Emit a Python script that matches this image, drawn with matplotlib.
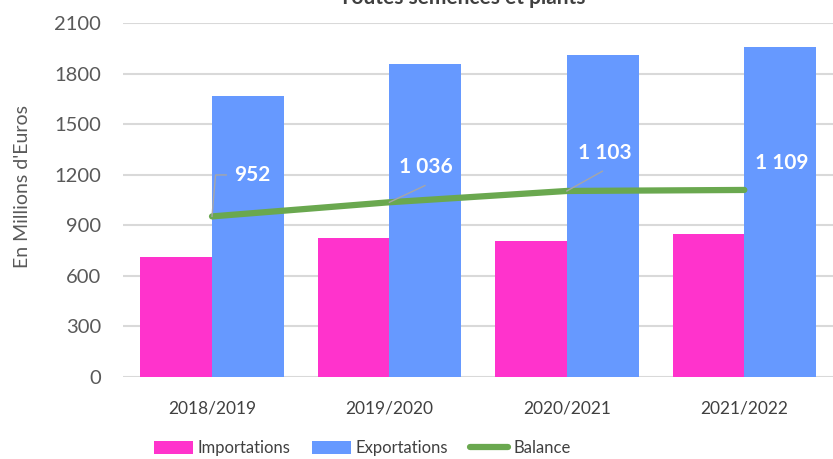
import matplotlib
matplotlib.use("Agg")
import matplotlib.pyplot as plt
import numpy as np
from matplotlib.patches import Patch
from matplotlib.lines import Line2D

categories = ["2018/2019", "2019/2020", "2020/2021", "2021/2022"]
importations = [712, 822, 808, 850]
exportations = [1664, 1858, 1911, 1959]
balance = [952, 1036, 1103, 1109]
balance_labels = ["952", "1 036", "1 103", "1 109"]
yticks = [0, 300, 600, 900, 1200, 1500, 1800, 2100]

plt.rcParams['font.family'] = ['Lato', 'DejaVu Sans']

fig = plt.figure(figsize=(8.33, 4.59), dpi=100)
ax = fig.add_axes([0.148, 0.179, 0.852, 0.771])

pink = "#ff33cc"
blue = "#6699ff"
green = "#6aa84f"

x = np.arange(len(categories))
w = 0.404
ax.bar(x - w / 2, importations, width=w, color=pink, zorder=2)
ax.bar(x + w / 2, exportations, width=w, color=blue, zorder=2)
ax.plot(x, balance, color=green, lw=4.5, solid_capstyle='round', zorder=3)

# data labels with leader lines
label_pos = [(0.225, 1198), (1.208, 1245), (2.213, 1329), (3.213, 1269)]
for i, (lx, ly) in enumerate(label_pos):
    ax.text(lx, ly, balance_labels[i], color="white", fontsize=15, fontweight='bold',
            ha='center', va='center', zorder=5)
ax.plot([0, 0.02, 0.08], [balance[0], 1198, 1198], color="#a6a6a6", lw=1, zorder=4)
ax.plot([1, 1.2], [balance[1], 1135], color="#a6a6a6", lw=1, zorder=4)
ax.plot([2, 2.2], [balance[2], 1220], color="#a6a6a6", lw=1, zorder=4)

ax.set_xlim(-0.5, 3.5)
ax.set_ylim(0, 2100)
ax.set_yticks(yticks)
ax.set_xticks(x)
ax.set_xticklabels(categories, fontsize=12.5, color="#404040")
ax.tick_params(axis='y', labelsize=14.5, labelcolor="#595959", length=0, pad=16)
ax.tick_params(axis='x', length=0, pad=17)
ax.grid(axis='y', color="#d9d9d9", lw=1.5, zorder=0)
for s in ax.spines.values():
    s.set_visible(False)
ax.set_ylabel("En Millions d'Euros", fontsize=14, color="#595959")
ax.yaxis.set_label_coords(-0.13, 0.537)

fig.text(0.555, 1.005, "Toutes semences et plants", ha='center', va='center',
         fontsize=15, fontweight='bold', color="#404040")

handles = [Patch(facecolor=pink), Patch(facecolor=blue),
           Line2D([0], [0], color=green, lw=4.5, solid_capstyle='round')]
fig.legend(handles, ["Importations", "Exportations", "Balance"], loc='center',
           bbox_to_anchor=(0.435, 0.024), ncol=3, frameon=False, fontsize=12,
           handlelength=2.3, handleheight=0.8, handletextpad=0.3, columnspacing=1.3,
           labelcolor="#404040")

fig.savefig("out.png", dpi=100)
